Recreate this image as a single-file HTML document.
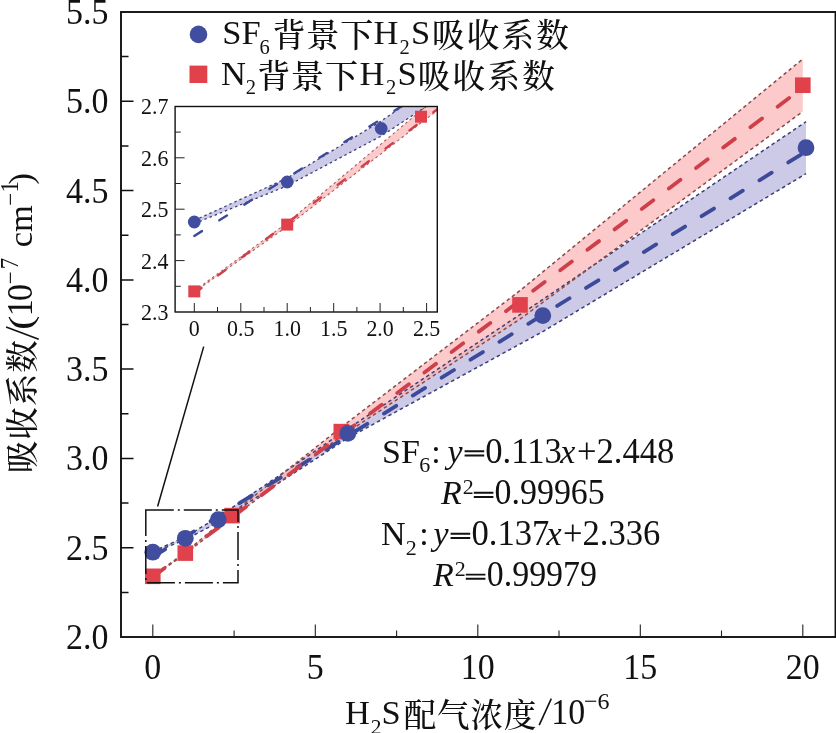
<!DOCTYPE html><html><head><meta charset="utf-8"><title>H2S absorption coefficient</title>
<style>html,body{margin:0;padding:0;background:#fff}body{width:836px;height:733px;overflow:hidden}svg{display:block;will-change:transform}text{font-family:"Liberation Serif",serif;fill:#111}text.cjk{font-family:"Liberation Serif","Noto Serif CJK SC",serif;font-weight:500}</style></head><body>
<svg width="836" height="733" viewBox="0 0 836 733" role="img" aria-label="H2S absorption coefficient versus H2S concentration in SF6 and N2 background">
<desc>SF6背景下H2S吸收系数; N2背景下H2S吸收系数; 吸收系数/(10^-7 cm^-1); H2S配气浓度/10^-6</desc>
<defs>
<clipPath id="cm"><rect x="121.0" y="12.0" width="714.5" height="625.0"/></clipPath>
<clipPath id="ci"><rect x="175.1" y="106.5" width="262.2" height="205.5"/></clipPath>
</defs>
<rect width="836" height="733" fill="#fff"/>
<g clip-path="url(#cm)">
<polygon points="152.8,551.6 185.3,536.9 218.2,517.1 347.8,428.8 542.8,299.5 806.0,121.7 806.0,173.7 542.8,331.6 347.8,438.1 218.2,522.3 185.3,539.6 152.8,552.7" fill="#b8b5de" fill-opacity="0.72"/>
<polygon points="152.8,576.1 185.3,552.4 232.1,513.4 341.3,427.2 520.0,290.6 802.8,59.0 802.8,111.5 520.0,319.1 341.3,436.1 232.1,517.7 185.3,553.7 152.8,576.5" fill="#fbb5b5" fill-opacity="0.72"/>
<polyline points="152.8,551.6 185.3,536.9 218.2,517.1 347.8,428.8 542.8,299.5 806.0,121.7" fill="none" stroke="#3a3f78" stroke-width="1.5" stroke-dasharray="3.5 3"/><polyline points="152.8,552.7 185.3,539.6 218.2,522.3 347.8,438.1 542.8,331.6 806.0,173.7" fill="none" stroke="#3a3f78" stroke-width="1.5" stroke-dasharray="3.5 3"/>
<polyline points="152.8,576.1 185.3,552.4 232.1,513.4 341.3,427.2 520.0,290.6 802.8,59.0" fill="none" stroke="#8a4a4c" stroke-width="1.5" stroke-dasharray="3.5 3"/><polyline points="152.8,576.5 185.3,553.7 232.1,517.7 341.3,436.1 520.0,319.1 802.8,111.5" fill="none" stroke="#8a4a4c" stroke-width="1.5" stroke-dasharray="3.5 3"/>
<line x1="152.8" y1="557.0" x2="802.8" y2="153.4" stroke="#3d4a9a" stroke-width="3.8" stroke-dasharray="14.5 19.5" stroke-dashoffset="0" stroke-linecap="round"/>
<line x1="152.8" y1="577.0" x2="797.9" y2="91.4" stroke="#cf3f4a" stroke-width="3.8" stroke-dasharray="14.5 19.5" stroke-dashoffset="0" stroke-linecap="round"/>
<rect x="145.0" y="568.5" width="15.6" height="15.6" fill="#e0414a"/>
<rect x="177.5" y="545.3" width="15.6" height="15.6" fill="#e0414a"/>
<rect x="224.3" y="507.8" width="15.6" height="15.6" fill="#e0414a"/>
<rect x="333.5" y="423.8" width="15.6" height="15.6" fill="#e0414a"/>
<rect x="512.2" y="297.1" width="15.6" height="15.6" fill="#e0414a"/>
<rect x="795.0" y="77.4" width="15.6" height="15.6" fill="#e0414a"/>
<circle cx="152.8" cy="552.2" r="8.4" fill="#414d9f"/>
<circle cx="185.3" cy="538.3" r="8.4" fill="#414d9f"/>
<circle cx="218.2" cy="519.7" r="8.4" fill="#414d9f"/>
<circle cx="347.8" cy="433.4" r="8.4" fill="#414d9f"/>
<circle cx="542.8" cy="315.6" r="8.4" fill="#414d9f"/>
<circle cx="806.0" cy="147.7" r="8.4" fill="#414d9f"/>
</g>
<rect x="145.8" y="510.1" width="92.2" height="72.7" fill="none" stroke="#111" stroke-width="1.5" stroke-dasharray="28 4 2 4"/>
<line x1="157.6" y1="506.5" x2="203.7" y2="346.6" stroke="#111" stroke-width="1.5"/>
<rect x="121.0" y="12.0" width="714.5" height="625.0" fill="none" stroke="#111" stroke-width="1.9"/>
<path d="M152.8 637.0v-12.5M234.1 637.0v-6.5M315.3 637.0v-12.5M396.6 637.0v-6.5M477.8 637.0v-12.5M559.0 637.0v-6.5M640.3 637.0v-12.5M721.5 637.0v-6.5M802.8 637.0v-12.5" stroke="#222" stroke-width="1.1" fill="none"/>
<path d="M121.0 592.4h7.5M121.0 547.7h12.5M121.0 503.1h7.5M121.0 458.4h12.5M121.0 413.8h7.5M121.0 369.1h12.5M121.0 324.5h7.5M121.0 279.9h12.5M121.0 235.2h7.5M121.0 190.6h12.5M121.0 145.9h7.5M121.0 101.3h12.5M121.0 56.6h7.5" stroke="#111" stroke-width="1.5" fill="none"/>
<text transform="translate(152.8,679.0) scale(0.930,1)" font-size="36.5" text-anchor="middle">0</text>
<text transform="translate(315.3,679.0) scale(0.930,1)" font-size="36.5" text-anchor="middle">5</text>
<text transform="translate(477.8,679.0) scale(0.930,1)" font-size="36.5" text-anchor="middle">10</text>
<text transform="translate(640.3,679.0) scale(0.930,1)" font-size="36.5" text-anchor="middle">15</text>
<text transform="translate(802.8,679.0) scale(0.930,1)" font-size="36.5" text-anchor="middle">20</text>
<text transform="translate(108.5,648.9) scale(0.930,1)" font-size="36.5" text-anchor="end">2.0</text>
<text transform="translate(108.5,559.6) scale(0.930,1)" font-size="36.5" text-anchor="end">2.5</text>
<text transform="translate(108.5,470.3) scale(0.930,1)" font-size="36.5" text-anchor="end">3.0</text>
<text transform="translate(108.5,381.0) scale(0.930,1)" font-size="36.5" text-anchor="end">3.5</text>
<text transform="translate(108.5,291.8) scale(0.930,1)" font-size="36.5" text-anchor="end">4.0</text>
<text transform="translate(108.5,202.5) scale(0.930,1)" font-size="36.5" text-anchor="end">4.5</text>
<text transform="translate(108.5,113.2) scale(0.930,1)" font-size="36.5" text-anchor="end">5.0</text>
<text transform="translate(108.5,23.9) scale(0.930,1)" font-size="36.5" text-anchor="end">5.5</text>
<rect x="175.1" y="106.5" width="262.2" height="205.5" fill="#fff"/>
<g clip-path="url(#ci)">
<polygon points="194.3,220.5 287.2,178.1 381.2,121.0 751.7,-133.1 1309.1,-505.3 2061.6,-1016.9 2061.6,-867.4 1309.1,-412.7 751.7,-106.4 381.2,136.0 287.2,185.8 194.3,223.6" fill="#b8b5de" fill-opacity="0.72"/>
<polygon points="194.3,290.9 287.2,222.8 421.0,110.5 733.1,-137.8 1244.1,-531.0 2052.3,-1197.6 2052.3,-1046.5 1244.1,-448.7 733.1,-112.1 421.0,122.8 287.2,226.4 194.3,292.0" fill="#fbb5b5" fill-opacity="0.72"/>
<polyline points="194.3,220.5 287.2,178.1 381.2,121.0 751.7,-133.1 1309.1,-505.3 2061.6,-1016.9" fill="none" stroke="#3a3f78" stroke-width="1.3" stroke-dasharray="2.5 3"/><polyline points="194.3,223.6 287.2,185.8 381.2,136.0 751.7,-106.4 1309.1,-412.7 2061.6,-867.4" fill="none" stroke="#3a3f78" stroke-width="1.3" stroke-dasharray="2.5 3"/>
<polyline points="194.3,290.9 287.2,222.8 421.0,110.5 733.1,-137.8 1244.1,-531.0 2052.3,-1197.6" fill="none" stroke="#a85a5c" stroke-width="1.1" stroke-dasharray="2.5 3"/><polyline points="194.3,292.0 287.2,226.4 421.0,122.8 733.1,-112.1 1244.1,-448.7 2052.3,-1046.5" fill="none" stroke="#a85a5c" stroke-width="1.1" stroke-dasharray="2.5 3"/>
<line x1="194.3" y1="235.9" x2="445.1" y2="79.1" stroke="#3d4a9a" stroke-width="2.4" stroke-dasharray="9 20.5" stroke-dashoffset="0" stroke-linecap="round"/>
<line x1="194.3" y1="293.5" x2="445.1" y2="103.4" stroke="#cf3f4a" stroke-width="2.4" stroke-dasharray="9 21" stroke-dashoffset="0" stroke-linecap="round"/>
<rect x="188.3" y="285.4" width="12" height="12" fill="#e0414a"/>
<rect x="281.2" y="218.6" width="12" height="12" fill="#e0414a"/>
<rect x="415.0" y="110.7" width="12" height="12" fill="#e0414a"/>
<rect x="727.1" y="-130.9" width="12" height="12" fill="#e0414a"/>
<rect x="1238.1" y="-495.8" width="12" height="12" fill="#e0414a"/>
<rect x="2046.3" y="-1128.1" width="12" height="12" fill="#e0414a"/>
<circle cx="194.3" cy="222.0" r="6.4" fill="#414d9f"/>
<circle cx="287.2" cy="182.0" r="6.4" fill="#414d9f"/>
<circle cx="381.2" cy="128.5" r="6.4" fill="#414d9f"/>
<circle cx="751.7" cy="-119.8" r="6.4" fill="#414d9f"/>
<circle cx="1309.1" cy="-459.0" r="6.4" fill="#414d9f"/>
<circle cx="2061.6" cy="-942.2" r="6.4" fill="#414d9f"/>
</g>
<rect x="175.1" y="106.5" width="262.2" height="205.5" fill="none" stroke="#111" stroke-width="1.4"/>
<path d="M194.3 312.0v-9.0M217.5 312.0v-5.0M240.8 312.0v-9.0M264.0 312.0v-5.0M287.2 312.0v-9.0M310.4 312.0v-5.0M333.7 312.0v-9.0M356.9 312.0v-5.0M380.1 312.0v-9.0M403.3 312.0v-5.0M426.6 312.0v-9.0M175.1 286.3h5.7M175.1 260.6h9.5M175.1 234.9h5.7M175.1 209.2h9.5M175.1 183.5h5.7M175.1 157.8h9.5M175.1 132.1h5.7" stroke="#222" stroke-width="1.0" fill="none"/>
<text transform="translate(194.3,336.3) scale(0.930,1)" font-size="23.6" text-anchor="middle">0</text>
<text transform="translate(240.8,336.3) scale(0.930,1)" font-size="23.6" text-anchor="middle">0.5</text>
<text transform="translate(287.2,336.3) scale(0.930,1)" font-size="23.6" text-anchor="middle">1.0</text>
<text transform="translate(333.7,336.3) scale(0.930,1)" font-size="23.6" text-anchor="middle">1.5</text>
<text transform="translate(380.1,336.3) scale(0.930,1)" font-size="23.6" text-anchor="middle">2.0</text>
<text transform="translate(426.6,336.3) scale(0.930,1)" font-size="23.6" text-anchor="middle">2.5</text>
<text transform="translate(168.5,319.9) scale(0.930,1)" font-size="23.6" text-anchor="end">2.3</text>
<text transform="translate(168.5,268.5) scale(0.930,1)" font-size="23.6" text-anchor="end">2.4</text>
<text transform="translate(168.5,217.1) scale(0.930,1)" font-size="23.6" text-anchor="end">2.5</text>
<text transform="translate(168.5,165.7) scale(0.930,1)" font-size="23.6" text-anchor="end">2.6</text>
<text transform="translate(168.5,114.3) scale(0.930,1)" font-size="23.6" text-anchor="end">2.7</text>
<circle cx="198.5" cy="34.4" r="8.8" fill="#414d9f"/>
<rect x="189.5" y="65.6" width="17.8" height="17.4" fill="#e0414a"/>
<text x="222.3" y="44.4" font-size="34.5" text-anchor="start">SF</text>
<text x="259.6" y="53.6" font-size="20.5" text-anchor="start">6</text>
<text class="cjk" x="272.4 306.3 340.2" y="46.9" font-size="33" text-anchor="start">背景下</text>
<text x="373.4" y="44.4" font-size="34.5" text-anchor="start">H</text>
<text x="399.6" y="53.6" font-size="20.5" text-anchor="start">2</text>
<text x="411.0" y="44.4" font-size="34.5" text-anchor="start">S</text>
<text class="cjk" x="431.9 466.7 501.5 536.3" y="46.9" font-size="32.5" text-anchor="start">吸收系数</text>
<text x="221.0" y="85.0" font-size="34.5" text-anchor="start">N</text>
<text x="245.8" y="94.2" font-size="20.5" text-anchor="start">2</text>
<text class="cjk" x="257.2 291.1 325.0" y="88.4" font-size="33" text-anchor="start">背景下</text>
<text x="359.4" y="85.0" font-size="34.5" text-anchor="start">H</text>
<text x="386.0" y="94.2" font-size="20.5" text-anchor="start">2</text>
<text x="397.4" y="85.0" font-size="34.5" text-anchor="start">S</text>
<text class="cjk" x="417.8 452.6 487.4 522.2" y="88.4" font-size="32.5" text-anchor="start">吸收系数</text>
<text x="382.0" y="462.5" font-size="34.0" text-anchor="start">SF</text>
<text x="419.3" y="472.4" font-size="22.0" text-anchor="start">6</text>
<text x="431.3" y="462.5" font-size="34.0" text-anchor="start">:</text>
<text x="447.5" y="462.5" font-size="34.0" text-anchor="start" font-style="italic">y</text>
<path d="M464.6 451.3h19.6M464.6 455.5h19.6" stroke="#111" stroke-width="1.9" fill="none"/>
<text transform="translate(485.3,462.5) scale(0.975,1)" font-size="35.5" text-anchor="start">0.113</text>
<text x="560.3" y="462.5" font-size="34.0" text-anchor="start" font-style="italic">x</text>
<text transform="translate(577.0,462.5) scale(0.975,1)" font-size="35.5" text-anchor="start">+2.448</text>
<text x="441.0" y="504.0" font-size="34.0" text-anchor="start" font-style="italic">R</text>
<text x="462.8" y="494.0" font-size="22.0" text-anchor="start">2</text>
<path d="M473.8 492.8h19.6M473.8 497.0h19.6" stroke="#111" stroke-width="1.9" fill="none"/>
<text transform="translate(494.6,504.0) scale(0.955,1)" font-size="35.5" text-anchor="start">0.99965</text>
<text x="381.0" y="545.0" font-size="34.0" text-anchor="start">N</text>
<text x="405.8" y="554.9" font-size="22.0" text-anchor="start">2</text>
<text x="419.3" y="545.0" font-size="34.0" text-anchor="start">:</text>
<text x="433.5" y="545.0" font-size="34.0" text-anchor="start" font-style="italic">y</text>
<path d="M450.6 533.8h19.6M450.6 538.0h19.6" stroke="#111" stroke-width="1.9" fill="none"/>
<text transform="translate(471.5,545.0) scale(0.975,1)" font-size="35.5" text-anchor="start">0.137</text>
<text x="546.5" y="545.0" font-size="34.0" text-anchor="start" font-style="italic">x</text>
<text transform="translate(563.0,545.0) scale(0.975,1)" font-size="35.5" text-anchor="start">+2.336</text>
<text x="433.0" y="585.8" font-size="34.0" text-anchor="start" font-style="italic">R</text>
<text x="454.8" y="575.8" font-size="22.0" text-anchor="start">2</text>
<path d="M465.8 574.6h19.6M465.8 578.8h19.6" stroke="#111" stroke-width="1.9" fill="none"/>
<text transform="translate(486.8,585.8) scale(0.955,1)" font-size="35.5" text-anchor="start">0.99979</text>
<text x="345.0" y="724.3" font-size="34.5" text-anchor="start">H</text>
<text x="370.8" y="733.5" font-size="21.5" text-anchor="start">2</text>
<text x="381.5" y="724.3" font-size="34.5" text-anchor="start">S</text>
<text class="cjk" x="403.8 437.1 470.4 503.7" y="726.8" font-size="32.5" text-anchor="start">配气浓度</text>
<line x1="539.2" y1="725.2" x2="551.3" y2="698.6" stroke="#111" stroke-width="1.6"/>
<text transform="translate(551.2,724.3) scale(0.930,1)" font-size="36.5" text-anchor="start">10</text>
<text x="584.0" y="709.3" font-size="24.0" text-anchor="start">−6</text>
<g transform="translate(31.9,474.5) rotate(-90)">
<text class="cjk" x="1.2 34.7 68.2 101.7" y="2.5" font-size="32.5" text-anchor="start">吸收系数</text>
<line x1="135.2" y1="6.8" x2="147.4" y2="-25.8" stroke="#111" stroke-width="1.6"/>
<text transform="translate(144.6,0.0) scale(1.250,1)" font-size="34.5" text-anchor="start">(</text>
<text transform="translate(158.3,0.0) scale(0.930,1)" font-size="36.5" text-anchor="start">1</text>
<text transform="translate(173.6,0.0) scale(0.930,1)" font-size="36.5" text-anchor="start">0</text>
<text x="190.2" y="-14.3" font-size="23.0" text-anchor="start">−</text>
<text transform="translate(205.2,-14.3) scale(0.900,1)" font-size="25.5" text-anchor="start">7</text>
<text x="227.2" y="0.0" font-size="34.5" text-anchor="start">cm</text>
<text x="268.7" y="-14.3" font-size="23.0" text-anchor="start">−</text>
<text transform="translate(282.0,-14.3) scale(0.900,1)" font-size="25.5" text-anchor="start">1</text>
<text x="289.9" y="0.0" font-size="34.5" text-anchor="start">)</text>
</g>
</svg></body></html>
